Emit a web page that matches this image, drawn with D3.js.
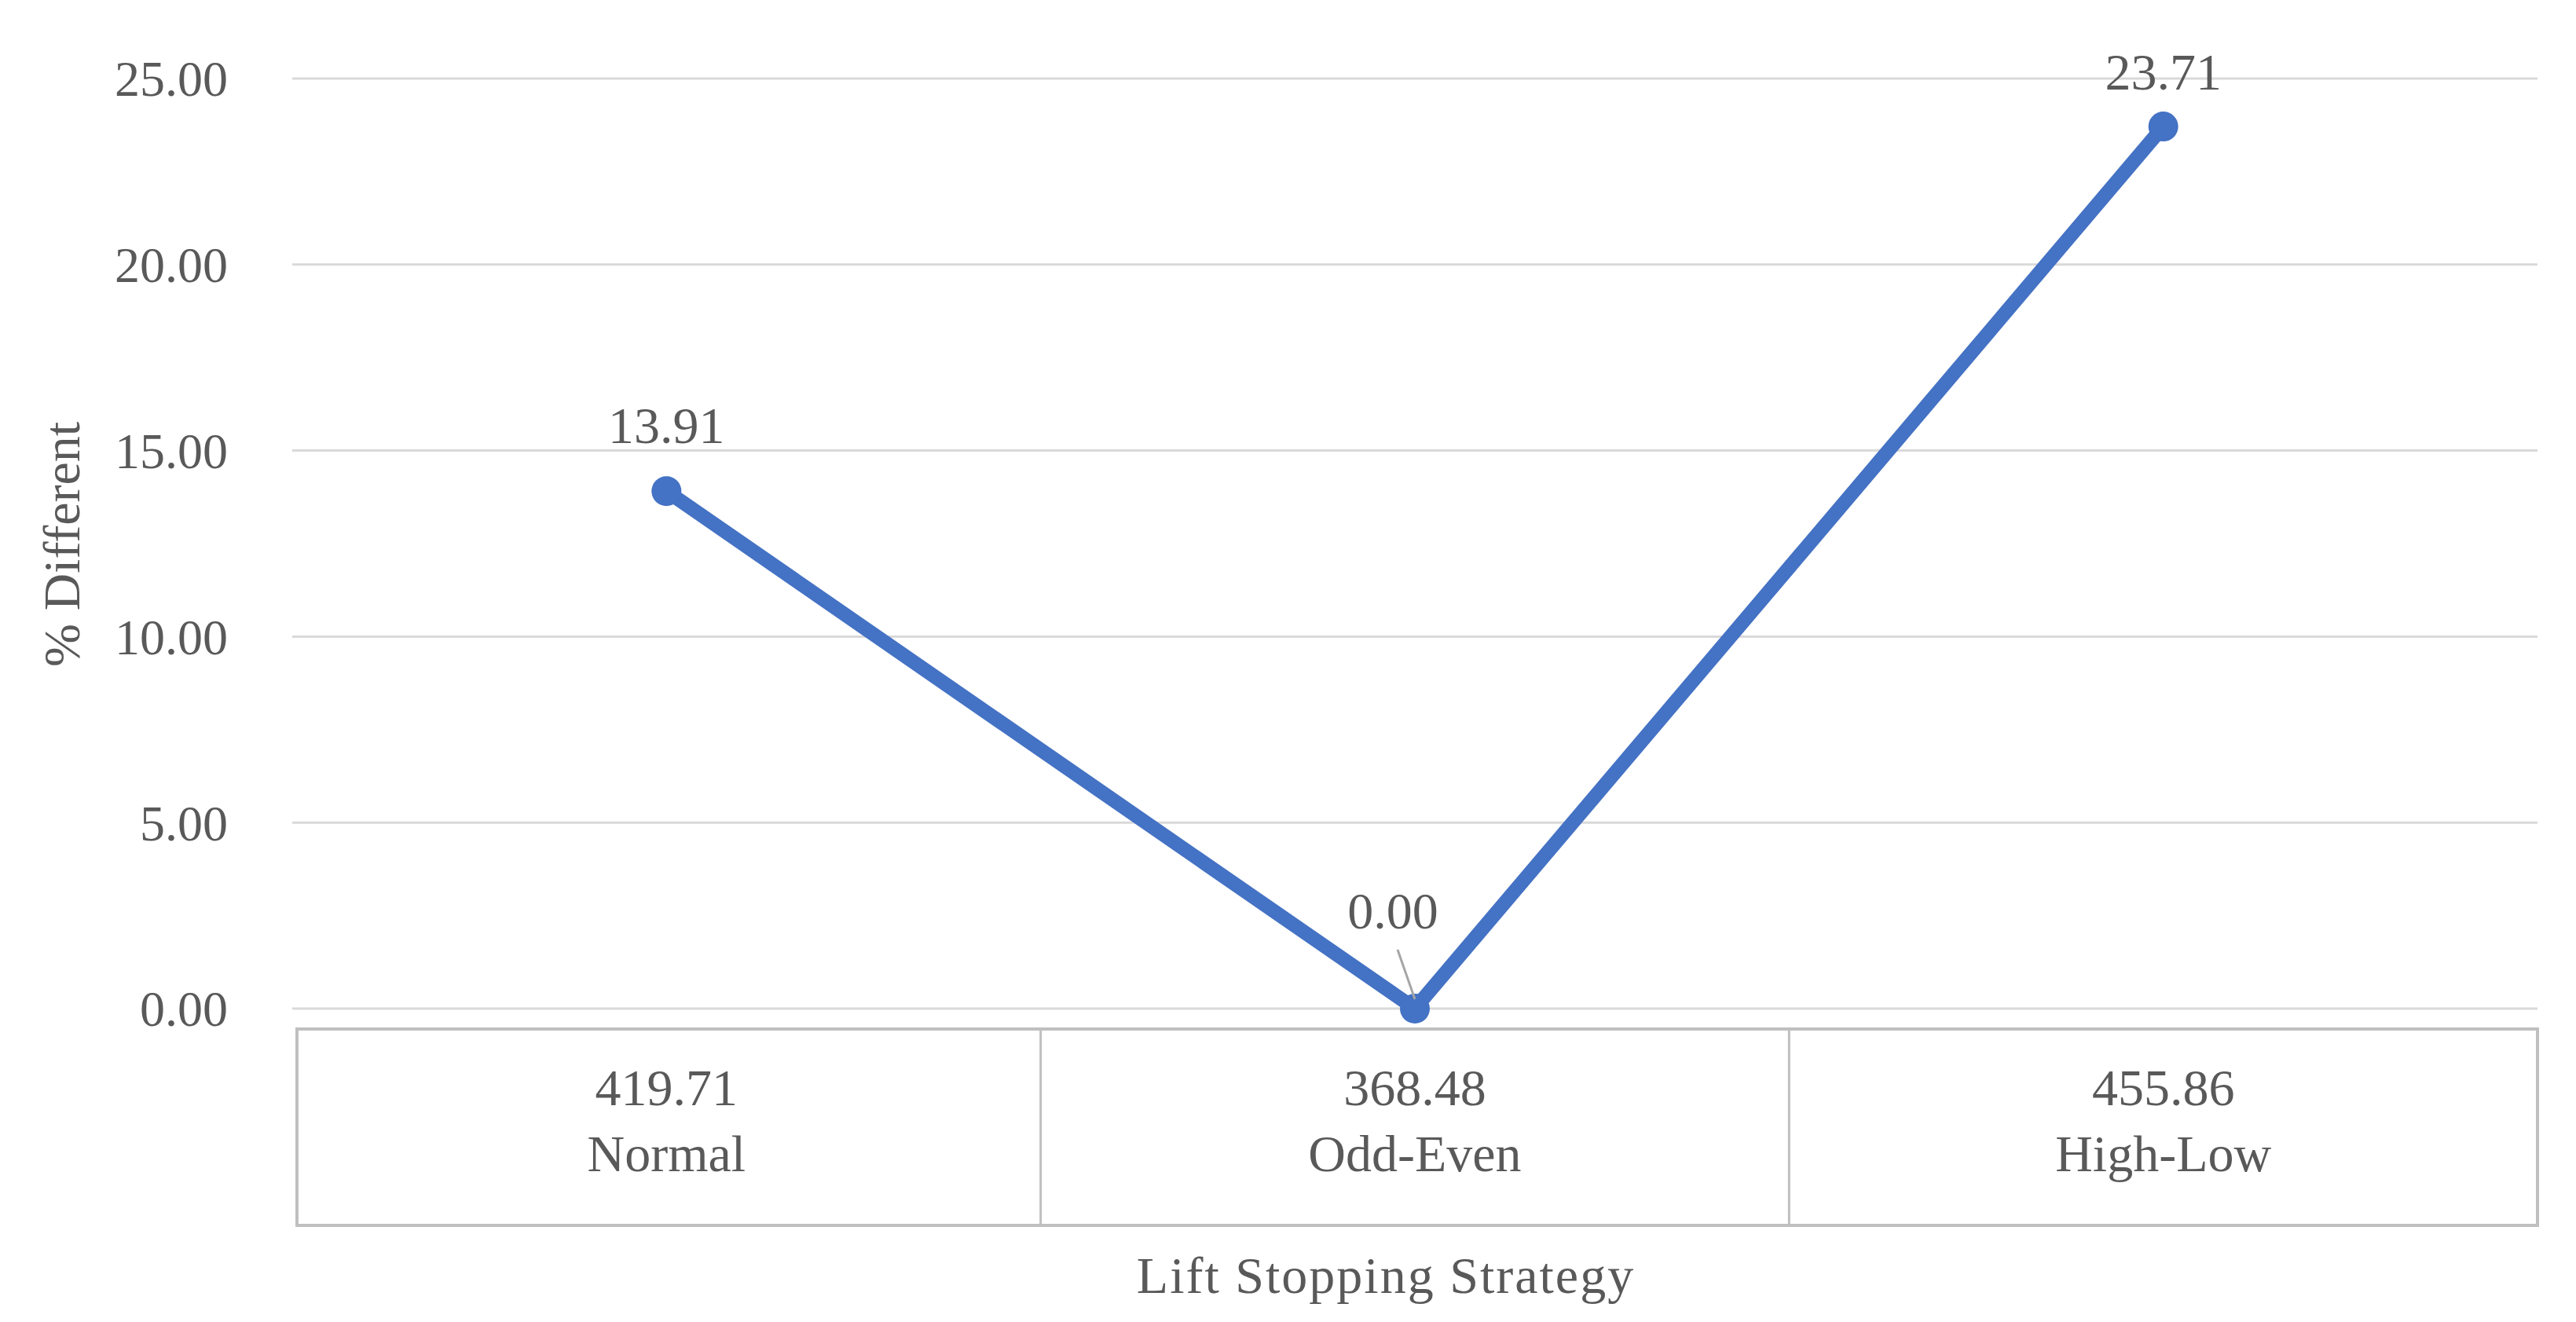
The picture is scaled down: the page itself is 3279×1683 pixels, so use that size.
<!DOCTYPE html>
<html>
<head>
<meta charset="utf-8">
<script src="https://cdn.jsdelivr.net/npm/d3@7"></script>
<style>
  body { margin: 0; background: #fff; }
  text { font-family: "Liberation Serif", "DejaVu Serif", serif; fill: #595959; }
</style>
</head>
<body>
<svg id="chart" width="3279" height="1683"></svg>
<script>
var categories = ['Normal', 'Odd-Even', 'High-Low'];
var times = ['419.71', '368.48', '455.86'];
var percentDiff = [13.91, 0.00, 23.71];
var yTicks = [0, 5, 10, 15, 20, 25];

var svg = d3.select('#chart'),
  plotLeft = 372, plotRight = 3230, plotTop = 100, plotBottom = 1284;

var x = d3.scaleBand().domain(categories).range([plotLeft, plotRight]);
var y = d3.scaleLinear().domain([0, 25]).range([plotBottom, plotTop]);

// gridlines
svg.append('g').selectAll('line').data(yTicks).enter().append('line')
  .attr('x1', plotLeft).attr('x2', plotRight)
  .attr('y1', function (d) { return y(d); }).attr('y2', function (d) { return y(d); })
  .attr('stroke', '#d9d9d9').attr('stroke-width', 3);

// y tick labels
svg.append('g').selectAll('text').data(yTicks).enter().append('text')
  .attr('x', 290).attr('y', function (d) { return y(d); })
  .attr('dy', '0.35em').attr('text-anchor', 'end')
  .attr('font-size', 64)
  .text(function (d) { return d.toFixed(2); });

// category table
var tTop = 1310, tBot = 1560;
var table = svg.append('g').attr('fill', 'none').attr('stroke', '#bfbfbf').attr('stroke-width', 4);
table.append('rect').attr('x', plotLeft + 6).attr('y', tTop).attr('width', plotRight - plotLeft - 6).attr('height', tBot - tTop);
table.selectAll('line').data(categories.slice(1)).enter().append('line')
  .attr('x1', function (d) { return x(d); }).attr('x2', function (d) { return x(d); })
  .attr('y1', tTop).attr('y2', tBot).attr('stroke-width', 3);

var cells = svg.append('g').selectAll('g').data(categories).enter().append('g');
cells.append('text')
  .attr('x', function (d) { return x(d) + x.bandwidth() / 2; }).attr('y', 1384)
  .attr('dy', '0.35em').attr('text-anchor', 'middle').attr('font-size', 66)
  .text(function (d, i) { return times[i]; });
cells.append('text')
  .attr('x', function (d) { return x(d) + x.bandwidth() / 2; }).attr('y', 1468)
  .attr('dy', '0.35em').attr('text-anchor', 'middle').attr('font-size', 66)
  .text(function (d) { return d; });

// line + markers
var pts = categories.map(function (c, i) { return [x(c) + x.bandwidth() / 2, y(percentDiff[i])]; });
svg.append('path').datum(pts)
  .attr('d', d3.line())
  .attr('fill', 'none').attr('stroke', '#4472C4').attr('stroke-width', 18)
  .attr('stroke-linejoin', 'round');
svg.append('g').selectAll('circle').data(pts).enter().append('circle')
  .attr('cx', function (d) { return d[0]; }).attr('cy', function (d) { return d[1]; })
  .attr('r', 19).attr('fill', '#4472C4');

// leader line for zero label
svg.append('line')
  .attr('x1', pts[1][0] - 22).attr('y1', y(0) - 75)
  .attr('x2', pts[1][0]).attr('y2', y(0) - 12)
  .attr('stroke', '#a6a6a6').attr('stroke-width', 3);

// data labels
var offsets = [[0, -84], [-28, -125], [0, -70]];
svg.append('g').selectAll('text').data(pts).enter().append('text')
  .attr('x', function (d, i) { return d[0] + offsets[i][0]; })
  .attr('y', function (d, i) { return d[1] + offsets[i][1]; })
  .attr('dy', '0.35em').attr('text-anchor', 'middle').attr('font-size', 66)
  .text(function (d, i) { return percentDiff[i].toFixed(2); });

// axis titles
svg.append('text')
  .attr('transform', 'translate(78,' + 693 + ') rotate(-90)')
  .attr('dy', '0.35em').attr('text-anchor', 'middle').attr('font-size', 66)
  .text('% Different');
svg.append('text')
  .attr('x', 1764).attr('y', 1623).attr('dy', '0.35em')
  .attr('text-anchor', 'middle').attr('font-size', 66).attr('letter-spacing', 2)
  .text('Lift Stopping Strategy');
</script>
</body>
</html>
